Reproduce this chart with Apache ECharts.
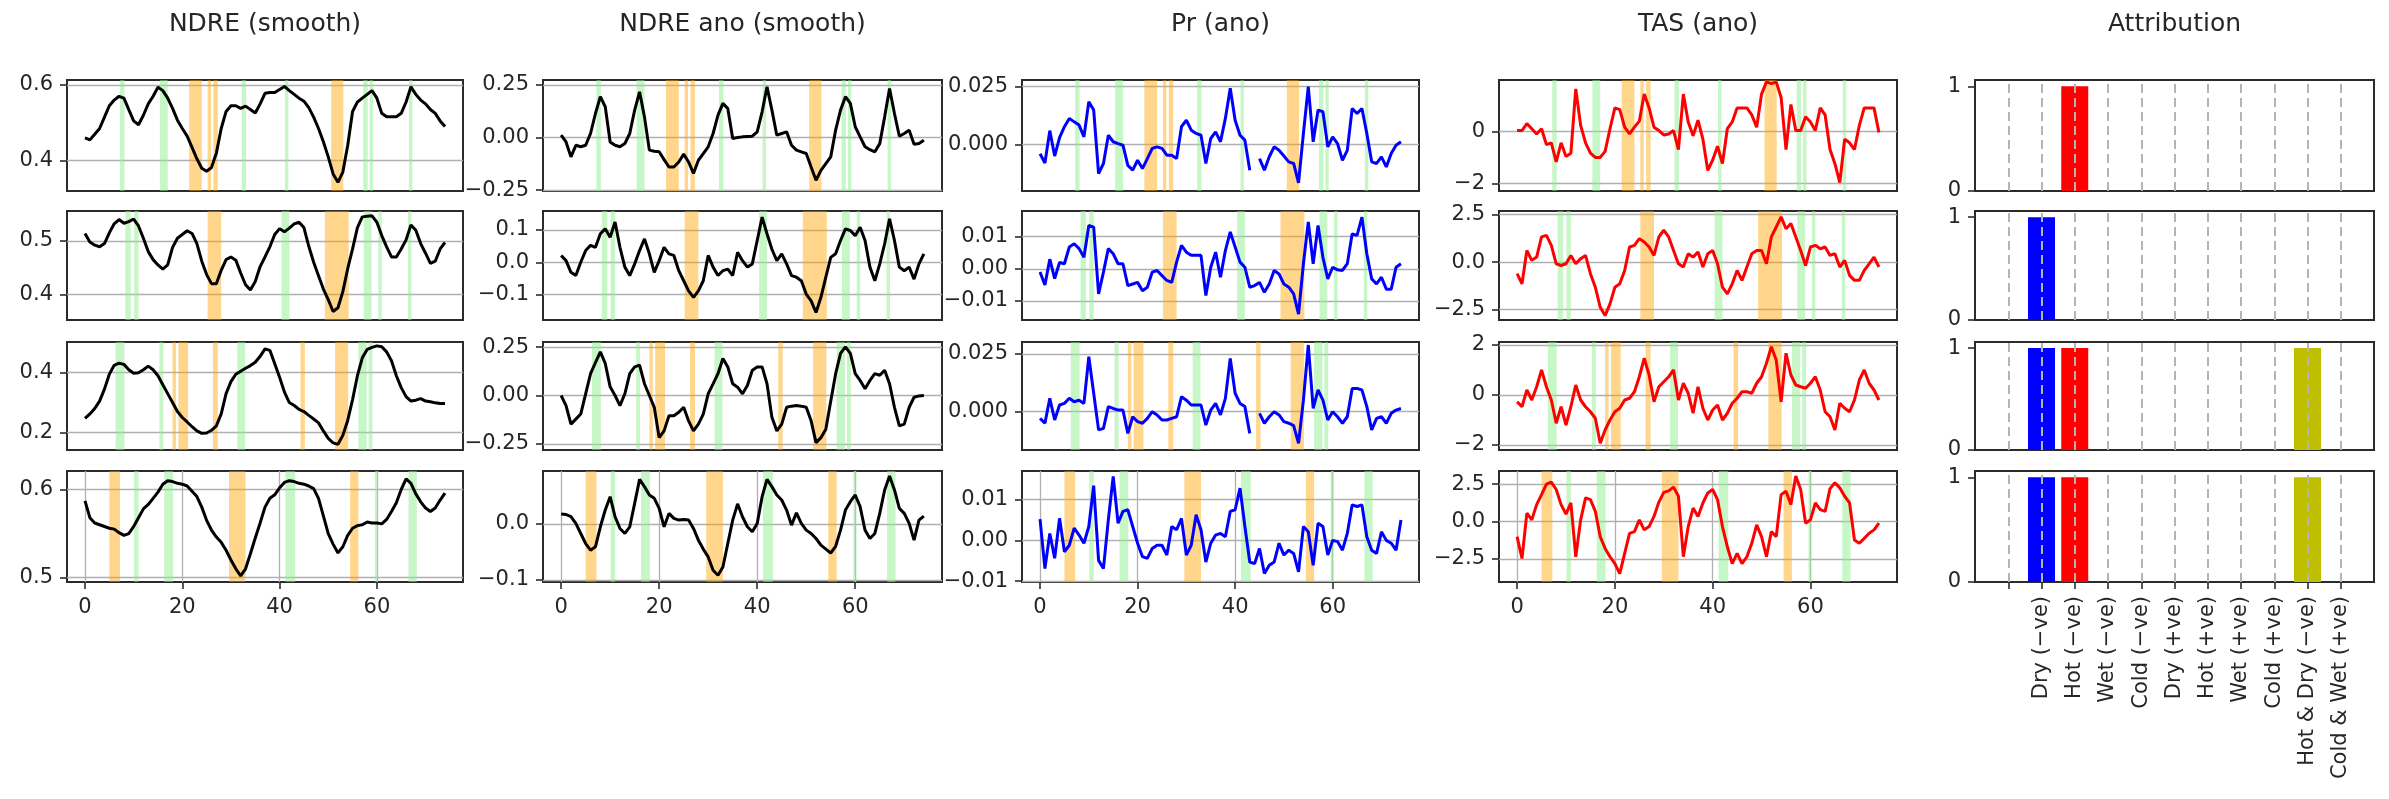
<!DOCTYPE html>
<html>
<head>
<meta charset="utf-8">
<script src="https://cdn.jsdelivr.net/npm/echarts@6.0.0/dist/echarts.min.js"></script>
<style>
html, body { margin: 0; padding: 0; background: #fff; }
#chart { width: 2389px; height: 799px; }
</style>
</head>
<body>
<div id="chart"></div>
<script>
// ---- data (time steps 0..74) ----
var ndre1 = [0.46,0.455,0.47,0.485,0.515,0.545,0.56,0.57,0.565,0.535,
  0.505,0.495,0.52,0.55,0.57,0.594,0.585,0.565,0.538,0.507,
  0.485,0.465,0.435,0.405,0.38,0.372,0.382,0.42,0.485,0.53,
  0.545,0.545,0.538,0.544,0.535,0.526,0.55,0.578,0.58,0.58,
  0.588,0.596,0.585,0.575,0.565,0.557,0.54,0.515,0.485,0.45,
  0.41,0.365,0.343,0.37,0.44,0.53,0.555,0.565,0.575,0.585,
  0.565,0.525,0.516,0.516,0.516,0.525,0.555,0.595,0.575,0.56,
  0.55,0.535,0.525,0.505,0.49];
var ndre2 = [0.514,0.498,0.492,0.489,0.495,0.515,0.532,0.54,0.533,0.536,
  0.541,0.528,0.505,0.48,0.465,0.455,0.447,0.455,0.488,0.505,
  0.512,0.519,0.514,0.495,0.462,0.437,0.42,0.42,0.445,0.465,
  0.47,0.464,0.44,0.418,0.408,0.424,0.452,0.47,0.489,0.512,
  0.523,0.517,0.524,0.532,0.535,0.525,0.49,0.46,0.435,0.41,
  0.39,0.368,0.375,0.405,0.448,0.485,0.525,0.545,0.546,0.547,
  0.535,0.51,0.489,0.47,0.47,0.485,0.502,0.53,0.52,0.495,
  0.477,0.458,0.462,0.485,0.497];
var ndre3 = [0.247,0.262,0.28,0.305,0.345,0.395,0.425,0.432,0.428,0.41,
  0.398,0.4,0.41,0.422,0.41,0.39,0.36,0.33,0.3,0.27,
  0.25,0.235,0.219,0.205,0.197,0.198,0.207,0.222,0.262,0.33,
  0.37,0.395,0.405,0.415,0.424,0.435,0.455,0.48,0.475,0.43,
  0.385,0.335,0.3,0.29,0.277,0.27,0.257,0.245,0.232,0.205,
  0.18,0.165,0.16,0.19,0.24,0.31,0.39,0.45,0.478,0.485,
  0.49,0.487,0.47,0.44,0.39,0.35,0.32,0.305,0.308,0.313,
  0.305,0.303,0.299,0.297,0.297];
var ndre4 = [0.587,0.568,0.562,0.56,0.558,0.556,0.555,0.551,0.548,0.55,
  0.558,0.568,0.578,0.583,0.59,0.597,0.606,0.61,0.609,0.607,
  0.606,0.604,0.598,0.592,0.58,0.565,0.554,0.546,0.54,0.531,
  0.52,0.51,0.502,0.51,0.527,0.545,0.562,0.58,0.59,0.594,
  0.602,0.608,0.61,0.609,0.607,0.606,0.604,0.601,0.59,0.57,
  0.55,0.538,0.528,0.535,0.548,0.556,0.559,0.56,0.563,0.562,
  0.562,0.561,0.566,0.575,0.585,0.6,0.612,0.607,0.595,0.586,
  0.579,0.575,0.579,0.588,0.596];

var ano1 = [0.011,-0.021,-0.092,-0.037,-0.044,-0.037,0.019,0.114,0.194,0.146,
  -0.021,-0.037,-0.044,-0.029,0.019,0.13,0.217,0.098,-0.06,-0.065,
  -0.068,-0.105,-0.14,-0.14,-0.116,-0.079,-0.116,-0.171,-0.108,-0.076,
  -0.044,0.019,0.106,0.162,0.138,-0.005,0,0.003,0.005,0.006,
  0.027,0.122,0.241,0.13,0.011,0.019,0.027,-0.037,-0.06,-0.068,
  -0.076,-0.14,-0.203,-0.156,-0.124,-0.092,0.035,0.13,0.194,0.162,
  0.051,0.003,-0.044,-0.058,-0.068,-0.029,0.098,0.233,0.114,0.006,
  0.019,0.035,-0.032,-0.029,-0.013];
var ano2 = [0.021,0.005,-0.031,-0.041,0.0,0.036,0.052,0.046,0.088,0.103,
  0.077,0.124,0.046,-0.015,-0.041,-0.005,0.036,0.072,0.026,-0.031,
  0.005,0.046,0.026,0.021,-0.026,-0.057,-0.088,-0.108,-0.088,-0.057,
  0.021,-0.015,-0.041,-0.026,-0.021,-0.041,0.031,0.005,-0.015,-0.005,
  0.067,0.139,0.088,0.04,0.005,0.026,-0.005,-0.041,-0.046,-0.057,
  -0.098,-0.119,-0.155,-0.108,-0.046,0.015,0.026,0.067,0.103,0.098,
  0.082,0.108,0.067,-0.015,-0.057,-0.005,0.057,0.134,0.067,-0.015,
  -0.026,-0.015,-0.052,-0.005,0.026];
var ano3 = [0,-0.052,-0.148,-0.122,-0.096,0.009,0.113,0.17,0.226,0.166,
  0.045,0.0,-0.052,0.009,0.113,0.148,0.157,0.061,0.0,-0.061,
  -0.218,-0.183,-0.105,-0.105,-0.087,-0.061,-0.131,-0.183,-0.148,-0.096,
  0.009,0.06,0.113,0.192,0.148,0.061,0.043,0.009,0.052,0.131,
  0.148,0.148,0.061,-0.113,-0.183,-0.148,-0.061,-0.055,-0.052,-0.055,
  -0.061,-0.131,-0.244,-0.218,-0.174,-0.03,0.113,0.218,0.252,0.218,
  0.113,0.078,0.035,0.078,0.113,0.105,0.131,0.061,-0.061,-0.157,
  -0.148,-0.061,-0.009,-0.002,0];
var ano4 = [0.018,0.017,0.013,0.001,-0.017,-0.035,-0.047,-0.041,-0.005,0.025,
  0.049,0.013,-0.008,-0.017,-0.005,0.037,0.08,0.067,0.052,0.046,
  0.028,-0.005,0.019,0.01,0.007,0.008,0.007,-0.008,-0.029,-0.045,
  -0.059,-0.083,-0.092,-0.077,-0.035,0.007,0.036,0.013,-0.005,-0.014,
  0.001,0.049,0.08,0.067,0.052,0.043,0.025,-0.002,0.02,0.001,
  -0.011,-0.017,-0.026,-0.038,-0.045,-0.052,-0.04,-0.011,0.025,0.04,
  0.052,0.031,-0.011,-0.026,-0.017,0.019,0.061,0.086,0.061,0.028,
  0.019,0.001,-0.029,0.007,0.014];

var pr1 = [-0.004,-0.008,0.006,-0.005,0.003,0.0077,0.0113,0.0098,0.0084,0.0033,
  0.0185,0.0149,-0.0126,-0.0082,0.004,0.0012,0.0004,-0.0003,-0.009,-0.0111,
  -0.0068,-0.0104,-0.0061,-0.0017,-0.001,-0.0017,-0.0046,-0.0046,-0.0061,0.0077,
  0.0105,0.0062,0.0048,0.004,-0.0082,0.0026,0.0055,0.0012,0.0113,0.0243,
  0.0105,0.004,0.0019,-0.0111,null,-0.0061,-0.0111,-0.0053,-0.001,-0.0025,
  -0.005,-0.0075,-0.0082,-0.0166,0.0048,0.025,0.0012,0.0149,0.0142,-0.001,
  0.0033,0.0004,-0.0068,-0.0025,0.0156,0.0134,0.0156,0.0048,-0.0075,-0.0082,
  -0.0053,-0.0097,-0.0039,-0.0003,0.0012];
var pr2 = [-0.001,-0.005,0.003,-0.003,0.002,0.0016,0.0068,0.0078,0.0063,0.0036,
  0.0135,0.013,-0.0078,-0.001,0.0063,0.0047,0.0016,0.0016,-0.0052,-0.0047,
  -0.0042,-0.0068,-0.0057,-0.001,-0.0005,-0.0021,-0.0036,-0.0042,0.0021,0.0073,
  0.0052,0.0042,0.0042,0.0042,-0.0083,0.0005,0.0052,-0.0026,0.0057,0.0115,
  0.0068,0.0021,0.0005,-0.0057,-0.0052,-0.0042,-0.0073,-0.0047,-0.0005,-0.0016,
  -0.0047,-0.0057,-0.0078,-0.0141,0.0016,0.0146,0.0016,0.0135,0.0036,-0.0031,
  0.0005,-0.0003,-0.0005,0.0016,0.0109,0.0104,0.0161,0.0047,-0.0031,-0.0047,
  -0.0026,-0.0063,-0.0063,0.0005,0.0016];
var pr3 = [-0.0029,-0.005,0.0058,-0.0036,0.0029,0.0036,0.0058,0.0043,0.005,0.0036,
  0.0238,0.008,-0.0079,-0.0072,0.0022,0.0014,0.0007,0.0007,-0.0094,-0.0022,
  -0.0043,-0.005,-0.0029,0.0,-0.0014,-0.0036,-0.0036,-0.0029,-0.0022,0.0065,
  0.005,0.0029,0.0029,0.0029,-0.0058,0.0007,0.0036,-0.0014,0.0058,0.0231,
  0.008,0.0036,0.0022,-0.0094,null,-0.0007,-0.005,-0.0022,0.0,-0.0014,
  -0.0043,-0.005,-0.006,-0.0137,0.005,0.0289,0.0014,0.0094,0.005,-0.0036,
  0.0,-0.0022,-0.005,-0.0022,0.0101,0.0101,0.0094,0.0022,-0.0079,-0.0029,
  -0.0022,-0.005,-0.0007,0.0007,0.0014];
var pr4 = [0.0052,-0.0069,0.0017,-0.0044,0.0054,-0.0028,-0.0012,0.003,0.0013,-0.0007,
  0.0034,0.0134,-0.0049,-0.0069,0.005,0.0157,0.0042,0.0071,0.0075,0.0034,
  -0.0007,-0.004,-0.0044,-0.002,-0.0012,-0.0012,-0.0036,0.0034,0.0026,0.0054,
  -0.0036,-0.0012,0.0063,0.0026,-0.0053,-0.0007,0.0013,0.0017,0.0009,0.0071,
  0.0075,0.0128,0.0034,-0.0053,-0.0057,-0.002,-0.0081,-0.0061,-0.0053,-0.0007,
  -0.0036,-0.0024,-0.0032,-0.0077,0.0034,0.0021,-0.0061,0.0042,0.0034,-0.0036,
  0.0,-0.0003,-0.0024,0.0017,0.0087,0.0083,0.0087,0.0009,-0.0024,-0.0032,
  0.0021,0.0,-0.0007,-0.0024,0.005];

var tas1 = [0.04,0.04,0.31,0.11,-0.09,0.11,-0.5,-0.43,-1.16,-0.43,
  -0.96,-0.83,1.64,0.24,-0.43,-0.83,-0.99,-0.99,-0.76,0.11,
  0.91,0.84,0.17,-0.09,0.17,0.4,1.44,0.91,0.17,0.04,
  -0.13,-0.09,0.04,-0.69,1.44,0.37,-0.16,0.44,-0.29,-1.49,
  -1.09,-0.56,-1.23,0.11,0.37,0.91,0.91,0.91,0.64,0.17,
  1.44,1.91,1.84,1.91,1.31,-0.69,1.04,0.04,0.04,0.57,
  0.37,0.04,0.91,0.64,-0.69,-1.23,-1.96,-0.29,-0.43,-0.69,
  0.24,0.91,0.91,0.91,-0.03];
var tas2 = [-0.61,-1.14,0.61,0.09,0.26,1.32,1.4,0.88,-0.09,-0.18,
  -0.09,0.35,-0.09,0.18,0.35,-0.61,-1.32,-2.37,-2.81,-2.19,
  -1.32,-1.14,-0.44,0.79,0.88,1.23,1.05,0.79,0.35,1.32,
  1.67,1.32,0.61,-0.09,-0.26,0.44,0.26,0.53,-0.26,0.44,
  0.61,-0.09,-1.32,-1.67,-1.14,-0.44,-0.96,-0.26,0.44,0.61,
  0.61,-0.09,1.32,1.84,2.37,1.75,2.02,1.32,0.61,-0.18,
  0.79,0.88,0.7,0.79,0.35,0.44,-0.26,0.09,-0.7,-0.96,
  -0.96,-0.44,-0.09,0.26,-0.26];
var tas3 = [-0.27,-0.47,0.2,-0.2,0.33,1.0,0.33,-0.2,-1.13,-0.47,
  -1.2,-0.47,0.4,-0.2,-0.47,-0.67,-0.93,-1.93,-1.4,-1.0,
  -0.67,-0.53,-0.2,-0.13,0.13,0.73,1.47,0.8,-0.27,0.33,
  0.53,0.73,1.0,-0.2,0.47,0.07,-0.73,0.33,-0.53,-1.0,
  -0.6,-0.4,-1.0,-0.73,-0.33,-0.13,0.13,0.13,0.07,0.47,
  0.73,1.27,1.93,1.4,-0.27,1.67,0.8,0.4,0.33,0.27,
  0.47,0.73,0.2,-0.67,-0.87,-1.4,-0.33,-0.53,-0.67,-0.2,
  0.6,1.0,0.47,0.2,-0.2];
var tas4 = [-1.01,-2.48,0.56,0.11,1.13,1.8,2.5,2.64,2.14,1.13,
  0.5,1.24,-2.36,0.11,1.58,1.46,0.68,-1.01,-1.8,-2.36,
  -2.82,-3.49,-2.14,-0.79,-0.68,0.11,-0.56,-0.34,0.34,1.3,
  1.95,2.05,2.3,1.69,-2.36,-0.34,0.9,0.34,1.24,1.91,
  2.14,1.46,-0.34,-1.69,-2.82,-2.14,-2.82,-2.36,-1.46,-0.23,
  -1.01,-2.36,-0.68,-1.01,1.8,2.03,1.13,3.04,2.14,-0.11,
  0.11,1.24,0.79,0.68,2.2,2.59,2.25,1.69,1.24,-1.24,
  -1.46,-1.13,-0.79,-0.56,-0.11];

// shaded event spans per row (time-step ranges)
var orangeSpans = [
  [[21.4, 24], [25.2, 25.9], [26.4, 27.3], [50.6, 53.1]],
  [[25.2, 28], [49.3, 54.2]],
  [[18, 18.7], [19.2, 21.2], [26.3, 27.3], [44.3, 45.2], [51.4, 54.1]],
  [[5, 7.2], [29.6, 33], [54.5, 56.2]]
];
var greenSpans = [
  [[7.2, 8.1], [15.4, 17], [32.2, 33.1], [41.1, 41.8], [57.2, 58.1], [58.5, 59.2], [66.6, 67.3]],
  [[8.3, 9.4], [10.1, 11], [40.4, 42], [57.3, 58.9], [60.3, 61], [66.4, 67.1]],
  [[6.3, 8.1], [15.3, 16.1], [31.3, 32.9], [56.2, 57.9], [58.3, 59.1]],
  [[10.1, 11], [16.3, 18.1], [41.2, 43.2], [59.6, 60.2], [66.5, 68.2]]
];

// attribution
var attrCats = ['', 'Dry (\u2212ve)', 'Hot (\u2212ve)', 'Wet (\u2212ve)', 'Cold (\u2212ve)', 'Dry (+ve)',
  'Hot (+ve)', 'Wet (+ve)', 'Cold (+ve)', 'Hot & Dry (\u2212ve)', 'Cold & Wet (+ve)'];
var attr1 = [0, 0, 1, 0, 0, 0, 0, 0, 0, 0, 0];
var attr2 = [0, 1, 0, 0, 0, 0, 0, 0, 0, 0, 0];
var attr3 = [0, 1, 1, 0, 0, 0, 0, 0, 0, 1, 0];
var attr4 = [0, 1, 1, 0, 0, 0, 0, 0, 0, 1, 0];

var colTitles = ['NDRE (smooth)', 'NDRE ano (smooth)', 'Pr (ano)', 'TAS (ano)', 'Attribution'];
var xTicks = [0, 20, 40, 60];
var yTicks = [
  [[0.4, 0.6], [0.4, 0.5], [0.2, 0.4], [0.5, 0.6]],
  [[-0.25, 0, 0.25], [-0.1, 0, 0.1], [-0.25, 0, 0.25], [-0.1, 0]],
  [[0, 0.025], [-0.01, 0, 0.01], [0, 0.025], [-0.01, 0, 0.01]],
  [[-2, 0], [-2.5, 0, 2.5], [-2, 0, 2], [-2.5, 0, 2.5]]
];
var yDecimals = [[1, 1, 1, 1], [2, 1, 2, 1], [3, 2, 3, 2], [0, 1, 0, 1]];
var yRange = [
  [[0.32, 0.613], [0.352, 0.556], [0.141, 0.503], [0.495, 0.621]],
  [[-0.254, 0.273], [-0.178, 0.158], [-0.282, 0.277], [-0.104, 0.095]],
  [[-0.0201, 0.0279], [-0.0159, 0.018], [-0.0166, 0.0302], [-0.0102, 0.017]],
  [[-2.28, 1.98], [-3.04, 2.68], [-2.2, 2.12], [-4.05, 3.38]]
];

// ---- layout / styles ----
var colLeft = [67, 543, 1022, 1499, 1975];
var colWidth = [396, 399, 397, 398, 399];
var rowTop = [80, 211, 342, 471];
var rowHeight = [111, 109, 108, 111];
var lineColors = ['#000000', '#000000', '#0000ff', '#ff0000'];
var attrColors = ['#888888', '#0000ff', '#ff0000', '#00bfbf', '#00bfff', '#0000ff', '#ff0000', '#00bfbf', '#00bfff', '#bfbf00', '#bf00bf'];
var font = 'DejaVu Sans';
var ink = '#262626';
var spine = '#2b2b2b';
var gridGray = '#b0b0b0';

var lineData = [
  [ndre1, ndre2, ndre3, ndre4],
  [ano1, ano2, ano3, ano4],
  [pr1, pr2, pr3, pr4],
  [tas1, tas2, tas3, tas4]
];
var attrData = [attr1, attr2, attr3, attr4];

function fmt(d) {
  return function (v) {
    var s = Math.abs(v).toFixed(d);
    return (v < -1e-9 ? '\u2212' : '') + s;
  };
}

var grids = [], xAxes = [], yAxes = [], series = [];

function addGrid(c, r) {
  grids.push({
    left: colLeft[c], top: rowTop[r], width: colWidth[c], height: rowHeight[r],
    show: true, borderColor: spine, borderWidth: 2, backgroundColor: 'transparent',
    containLabel: false, outerBoundsMode: 'none'
  });
  return grids.length - 1;
}

for (var c = 0; c < 4; c++) {
  for (var r = 0; r < 4; r++) {
    var g = addGrid(c, r);
    var isBottom = r === 3;
    xAxes.push({
      gridIndex: g, type: 'value', min: -3.7, max: 77.7,
      axisLine: { show: false, onZero: false },
      axisTick: { show: isBottom, length: 7, lineStyle: { color: spine, width: 1.6 }, customValues: xTicks },
      axisLabel: { show: isBottom, customValues: xTicks, margin: 15, fontSize: 21, fontFamily: font, color: ink },
      splitLine: { show: isBottom, lineStyle: { color: gridGray, width: 1.3 } }
    });
    yAxes.push({
      gridIndex: g, type: 'value', min: yRange[c][r][0], max: yRange[c][r][1],
      axisLine: { show: false, onZero: false },
      axisTick: { show: true, length: 7, lineStyle: { color: spine, width: 1.6 }, customValues: yTicks[c][r] },
      axisLabel: { customValues: yTicks[c][r], formatter: fmt(yDecimals[c][r]), margin: 14, fontSize: 21, fontFamily: font, color: ink },
      splitLine: { show: true, lineStyle: { color: gridGray, width: 1.3 } }
    });
    var spans = [];
    orangeSpans[r].forEach(function (s) {
      spans.push([{ xAxis: s[0], itemStyle: { color: 'rgba(255,165,0,0.45)' } }, { xAxis: s[1] }]);
    });
    greenSpans[r].forEach(function (s) {
      spans.push([{ xAxis: s[0], itemStyle: { color: 'rgba(144,238,144,0.5)' } }, { xAxis: s[1] }]);
    });
    series.push({
      type: 'line', xAxisIndex: g, yAxisIndex: g,
      data: lineData[c][r].map(function (v, i) { return [i, v === null ? '-' : v]; }),
      symbol: 'none', connectNulls: false, animation: false,
      lineStyle: { color: lineColors[c], width: 3 },
      markArea: { silent: true, z: 3, data: spans }
    });
  }
}

var catIdx = attrCats.map(function (_, k) { return k; });
for (var r2 = 0; r2 < 4; r2++) {
  var g2 = addGrid(4, r2);
  var bottomRow = r2 === 3;
  xAxes.push({
    gridIndex: g2, type: 'value', min: -1, max: 11,
    axisLine: { show: false, onZero: false },
    axisTick: { show: bottomRow, length: 7, lineStyle: { color: spine, width: 1.6 }, customValues: catIdx },
    axisLabel: {
      show: bottomRow, customValues: catIdx, rotate: 90, margin: 14, fontSize: 21, fontFamily: font, color: ink,
      formatter: function (v) { return attrCats[Math.round(v)]; }
    },
    splitLine: { show: false }
  });
  yAxes.push({
    gridIndex: g2, type: 'value', min: 0, max: 1.06,
    axisLine: { show: false, onZero: false },
    axisTick: { show: true, length: 7, lineStyle: { color: spine, width: 1.6 }, customValues: [0, 1] },
    axisLabel: { customValues: [0, 1], margin: 14, fontSize: 21, fontFamily: font, color: ink },
    splitLine: { show: false }
  });
  var bars = [];
  attrData[r2].forEach(function (v, k) {
    if (v > 0) bars.push({ value: [k, v], itemStyle: { color: attrColors[k] } });
  });
  series.push({
    type: 'bar', xAxisIndex: g2, yAxisIndex: g2, data: bars, barWidth: 27, animation: false,
    markLine: {
      silent: true, symbol: ['none', 'none'], label: { show: false }, animation: false,
      lineStyle: { type: [9, 5], color: '#b4b4b4', width: 2 },
      data: catIdx.map(function (k) { return { xAxis: k }; })
    }
  });
}

var titles = colTitles.map(function (t, k) {
  return {
    type: 'text', x: colLeft[k] + colWidth[k] / 2, y: 24,
    style: { text: t, fontSize: 25, fontFamily: font, fill: ink, align: 'center', verticalAlign: 'middle', textAlign: 'center', textVerticalAlign: 'middle' }
  };
});

var chart = echarts.init(document.getElementById('chart'));
chart.setOption({
  animation: false,
  backgroundColor: '#ffffff',
  graphic: titles,
  grid: grids,
  xAxis: xAxes,
  yAxis: yAxes,
  series: series
});
</script>
</body>
</html>
